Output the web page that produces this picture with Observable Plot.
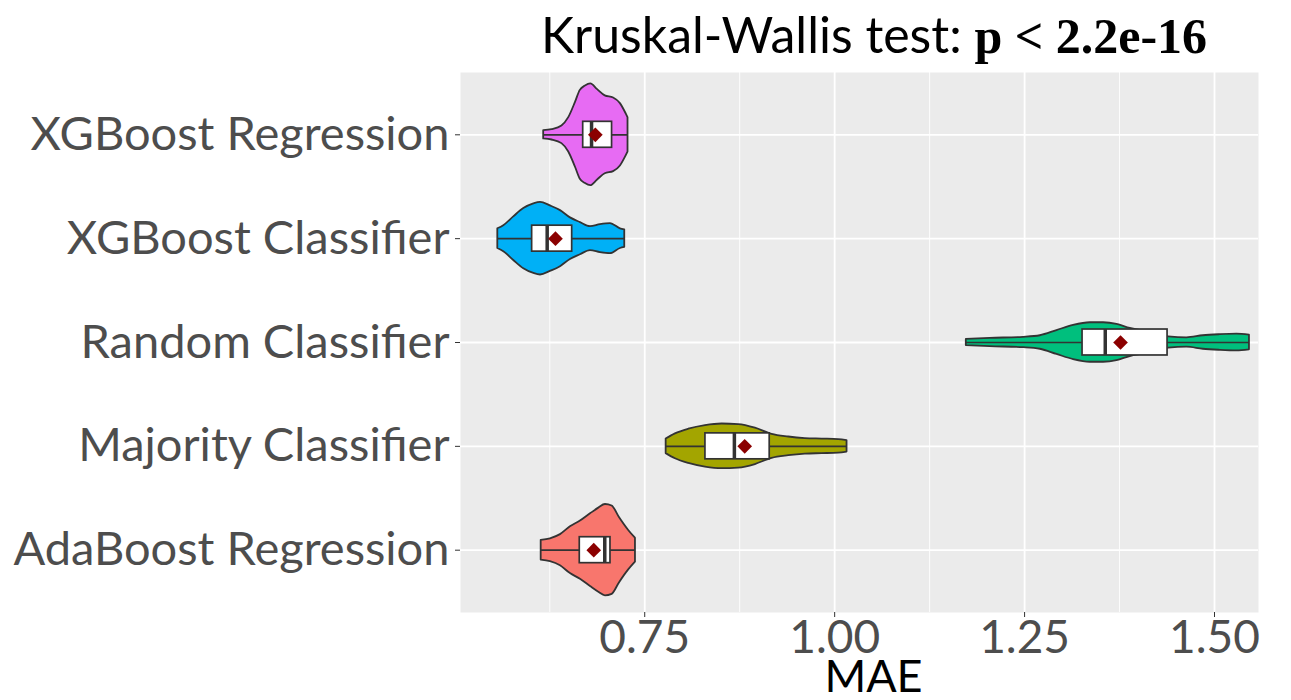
<!DOCTYPE html>
<html>
<head>
<meta charset="utf-8">
<script src="https://cdn.jsdelivr.net/npm/d3@7"></script>
<script src="https://cdn.jsdelivr.net/npm/@observablehq/plot@0.6"></script>
<style>
  html, body { margin: 0; padding: 0; background: #fff; }
  #wrap { position: relative; width: 1291px; height: 700px; }
  #title { position: absolute; top: 8px; left: 874px; transform: translateX(-50%);
           white-space: nowrap; font-family: Lato, sans-serif; font-size: 50px; line-height: 52px; color: #000; }
  #title b { font-family: "Liberation Serif", serif; font-weight: bold; font-size: 50px; }
</style>
</head>
<body>
<div id="wrap">
  <div id="title">Kruskal-Wallis test: <b>p &lt; 2.2e-16</b></div>
  <div id="chart"></div>
</div>
<script>
// Categories, bottom to top
const categories = ["AdaBoost Regression", "Majority Classifier", "Random Classifier", "XGBoost Classifier", "XGBoost Regression"];
const colors = ["#F8766D", "#A3A500", "#00BF7D", "#00B0F6", "#E76BF3"];

// Violin density profiles (MAE value, relative density)
const adaX = [0.6137, 0.6259, 0.6391, 0.6522, 0.6654, 0.6786, 0.6895, 0.6983, 0.7071, 0.7167, 0.7289, 0.7378];
const adaD = [0.19, 0.22, 0.30, 0.45, 0.56, 0.70, 0.81, 0.88, 0.85, 0.63, 0.38, 0.23];
const majX = [0.7782, 0.7904, 0.8079, 0.8299, 0.8518, 0.8737, 0.8957, 0.9176, 0.9395, 0.9614, 0.9834, 1.0053, 1.0163];
const majD = [0.14, 0.24, 0.33, 0.40, 0.43, 0.42, 0.35, 0.23, 0.18, 0.15, 0.14, 0.13, 0.11];
const rndX = [1.1733, 1.2049, 1.2487, 1.2707, 1.2926, 1.3145, 1.3365, 1.354, 1.3716, 1.3891, 1.4111, 1.4286, 1.4395, 1.4637, 1.4851, 1.5075, 1.5295, 1.546];
const rndD = [0.06, 0.08, 0.10, 0.13, 0.23, 0.33, 0.38, 0.38, 0.35, 0.27, 0.21, 0.13, 0.11, 0.09, 0.13, 0.15, 0.16, 0.14];
const xgcX = [0.5566, 0.5645, 0.5776, 0.5908, 0.604, 0.6128, 0.6259, 0.6391, 0.6522, 0.6654, 0.6786, 0.6917, 0.7049, 0.718, 0.7237];
const xgcD = [0.19, 0.25, 0.42, 0.58, 0.67, 0.70, 0.63, 0.54, 0.40, 0.31, 0.23, 0.27, 0.29, 0.19, 0.17];
const xgrX = [0.617, 0.628, 0.641, 0.650, 0.659, 0.665, 0.672, 0.679, 0.688, 0.698, 0.709, 0.718, 0.725, 0.728];
const xgrD = [0.08, 0.10, 0.17, 0.33, 0.63, 0.85, 0.94, 0.98, 0.87, 0.75, 0.71, 0.60, 0.42, 0.33];

// Box statistics, in category order
const q1 = [0.6645, 0.8299, 1.3263, 0.6018, 0.669];
const median = [0.6974, 0.868, 1.3562, 0.6216, 0.680];
const q3 = [0.7049, 0.9145, 1.4382, 0.6545, 0.707];
const mean = [0.6829, 0.8816, 1.3763, 0.6325, 0.685];

// Axis ticks
const majorTicks = [0.75, 1.00, 1.25, 1.50];
const minorTicks = [0.625, 0.875, 1.125, 1.375];
const tickLabels = ["0.75", "1.00", "1.25", "1.50"];

const profilesX = [adaX, majX, rndX, xgcX, xgrX];
const profilesD = [adaD, majD, rndD, xgcD, xgrD];

const violinHalf = 0.5;  // max half-width in category units
const boxHalf = 0.125;

const violin = [];
categories.forEach((c, i) => {
  profilesX[i].forEach((x, j) => violin.push({cat: c, idx: i, x, d: profilesD[i][j]}));
});
const stats = categories.map((c, i) => ({
  cat: c, idx: i, q1: q1[i], median: median[i], q3: q3[i], mean: mean[i],
  lo: profilesX[i][0], hi: profilesX[i][profilesX[i].length - 1]
}));

const plot = Plot.plot({
  width: 1291,
  height: 700,
  marginLeft: 460,
  marginRight: 33,
  marginTop: 72,
  marginBottom: 88,
  style: {fontFamily: "Lato, sans-serif", background: "transparent"},
  x: {domain: [0.5075, 1.5579]},
  y: {domain: [-0.6, 4.6]},
  color: {domain: categories, range: colors},
  marks: [
    Plot.frame({fill: "#EBEBEB", stroke: null}),
    Plot.gridX(minorTicks, {stroke: "#fff", strokeOpacity: 1, strokeWidth: 0.9}),
    Plot.gridX(majorTicks, {stroke: "#fff", strokeOpacity: 1, strokeWidth: 1.8}),
    Plot.gridY([0, 1, 2, 3, 4], {stroke: "#fff", strokeOpacity: 1, strokeWidth: 1.8}),
    Plot.areaY(violin, {
      x: "x",
      y1: d => d.idx - violinHalf * d.d,
      y2: d => d.idx + violinHalf * d.d,
      z: "cat",
      fill: "cat",
      stroke: "#333333",
      strokeWidth: 1.8,
      curve: "monotone-x"
    }),
    Plot.ruleY(stats, {y: "idx", x1: "lo", x2: "hi", stroke: "#333333", strokeWidth: 1.7}),
    Plot.rect(stats, {x1: "q1", x2: "q3", y1: d => d.idx - boxHalf, y2: d => d.idx + boxHalf,
      fill: "#fff", stroke: "#333333", strokeWidth: 1.7}),
    Plot.ruleX(stats, {x: "median", y1: d => d.idx - boxHalf, y2: d => d.idx + boxHalf,
      stroke: "#333333", strokeWidth: 3.5}),
    Plot.dot(stats, {x: "mean", y: "idx", symbol: "diamond2", r: 6.6, fill: "#8B0000", stroke: null}),
    Plot.axisX(majorTicks, {tickFormat: (d, i) => tickLabels[i], fontSize: 46, tickSize: 5, tickPadding: 3,
      stroke: "#333333", fill: "#4D4D4D", label: null}),
    Plot.axisY([0, 1, 2, 3, 4], {tickFormat: d => categories[d], fontSize: 47, tickSize: 5, tickPadding: 6,
      stroke: "#333333", fill: "#4D4D4D", label: null}),
    Plot.text(["MAE"], {frameAnchor: "bottom", dx: 14, dy: 65, fontSize: 45, fill: "#000", lineAnchor: "middle"})
  ]
});
document.getElementById("chart").appendChild(plot);
</script>
</body>
</html>
